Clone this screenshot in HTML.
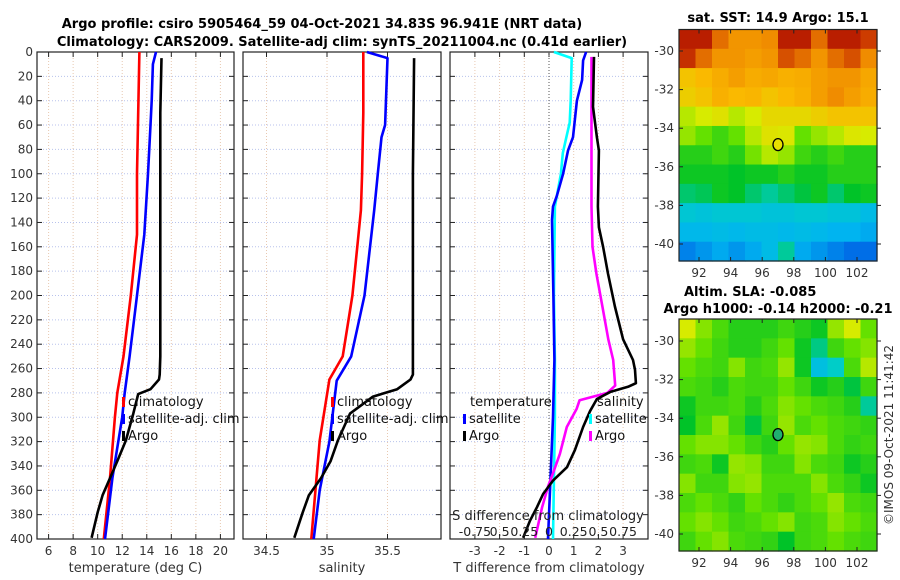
<!DOCTYPE html>
<html><head><meta charset="utf-8"><style>
body{margin:0;background:#fff}
svg{display:block;font-family:"DejaVu Sans","Liberation Sans",sans-serif}
</style></head><body>
<svg id="c" width="900" height="580" viewBox="0 0 900 580">
<text x="322" y="28" font-size="13" font-weight="bold" text-anchor="middle" fill="#000">Argo profile: csiro 5905464_59 04-Oct-2021 34.83S 96.941E (NRT data)</text>
<text x="342" y="46" font-size="13" font-weight="bold" text-anchor="middle" fill="#000">Climatology: CARS2009. Satellite-adj clim: synTS_20211004.nc (0.41d earlier)</text>
<text x="778" y="22" font-size="13" font-weight="bold" text-anchor="middle">sat. SST: 14.9 Argo: 15.1</text>
<text x="684" y="296" font-size="13" font-weight="bold">Altim. SLA: -0.085</text>
<text x="778" y="313" font-size="13" font-weight="bold" text-anchor="middle">Argo h1000: -0.14 h2000: -0.21</text>
<text transform="translate(893,435) rotate(-90)" font-size="12" text-anchor="middle" fill="#333">©IMOS 09-Oct-2021 11:41:42</text>
</svg>
<script>
// ---- data ----
const depthTicks=[0,20,40,60,80,100,120,140,160,180,200,220,240,260,280,300,320,340,360,380,400];
const tTicks=[6,8,10,12,14,16,18,20];
const sTicks=[34.5,35,35.5];
const sTickLabels=["34.5","35","35.5"];
const dtTicks=[-3,-2,-1,0,1,2,3];
const dsTickLabels=["-0.75","0.5","0.25","0","0.25","0.5","0.75"];
const dsTicks=[-0.75,-0.5,-0.25,0,0.25,0.5,0.75];
// temperature profiles
const tClimDepth=[0,50,100,150,200,250,280,300,350,400];
const tClimVal=[13.4,13.3,13.2,13.2,12.7,12.1,11.6,11.4,11.0,10.5];
const tSatDepth=[0,10,40,60,100,150,200,250,280,300,350,400];
const tSatVal=[14.75,14.5,14.4,14.3,14.1,13.8,13.2,12.6,12.2,12.0,11.2,10.6];
const tArgoDepth=[5,50,100,150,200,250,265,269,277,281,297,319,336,350,364,378,399];
const tArgoVal=[15.2,15.1,15.1,15.1,15.1,15.1,15.05,15.0,14.3,13.3,12.9,12.3,11.6,11.0,10.4,10.0,9.5];
// salinity profiles
const sClimDepth=[0,50,100,130,150,200,250,269,319,400];
const sClimVal=[35.30,35.30,35.29,35.28,35.26,35.21,35.13,35.02,34.94,34.87];
const sSatDepth=[0,5,60,70,100,130,200,250,270,320,360,400];
const sSatVal=[35.33,35.50,35.48,35.45,35.42,35.39,35.31,35.20,35.08,35.02,34.94,34.89];
const sArgoDepth=[5,100,200,265,269,277,283,297,319,336,350,364,378,399];
const sArgoVal=[35.72,35.71,35.71,35.71,35.69,35.58,35.38,35.19,35.09,35.03,34.95,34.85,34.80,34.73];
// difference profiles
const dtSatDepth=[0,7,23,40,70,81,100,118,127,138,200,253,300,400];
const dtSatVal=[1.5,1.38,1.34,1.13,0.97,0.77,0.57,0.32,0.16,0.12,0.18,0.22,0.16,-0.04];
const dsSatDepth=[0,5,40,58,72,83,100,127,200,253,300,400];
const dsSatVal=[0.05,0.23,0.22,0.21,0.17,0.14,0.12,0.06,0.05,0.06,0.06,0.04];
const dtArgoDepth=[4,45,70,81,127,144,160,182,209,236,253,261,272,275,279,285,295,308,327,341,352,363,374,385,399];
const dtArgoVal=[1.82,1.78,1.94,2.02,1.98,2.02,2.19,2.39,2.67,3.00,3.40,3.48,3.52,3.2,2.5,1.94,1.66,1.38,1.05,0.73,0.16,-0.24,-0.49,-0.77,-1.05];
const dsArgoDepth=[4,127,160,182,209,236,253,274,280,286,293,308,330,346,357,374,399];
const dsArgoVal=[0.43,0.43,0.44,0.48,0.54,0.60,0.65,0.67,0.59,0.31,0.28,0.18,0.11,0.04,-0.01,-0.07,-0.14];
// maps (normalized colour values 0..1, rows north->south)
const mapLonTicks=[92,94,96,98,100,102];
const mapLatTicks=[-30,-32,-34,-36,-38,-40];
const sstGrid=[
[.95,.95,.85,.8,.8,.82,.95,.95,.85,.95,.95,.9],
[.92,.85,.8,.8,.78,.8,.88,.85,.8,.85,.88,.82],
[.7,.72,.75,.78,.75,.76,.74,.75,.78,.8,.8,.76],
[.68,.7,.74,.72,.73,.7,.72,.74,.78,.82,.78,.75],
[.6,.62,.64,.6,.62,.66,.66,.66,.68,.7,.7,.7],
[.58,.55,.52,.55,.6,.64,.63,.55,.58,.6,.63,.62],
[.5,.5,.52,.5,.56,.6,.58,.52,.5,.52,.5,.5],
[.48,.48,.48,.47,.48,.48,.5,.48,.48,.5,.5,.5],
[.44,.45,.48,.47,.44,.42,.44,.46,.48,.44,.47,.48],
[.38,.37,.38,.38,.38,.37,.37,.38,.38,.37,.37,.35],
[.34,.34,.35,.34,.35,.35,.34,.35,.34,.33,.33,.32],
[.28,.3,.32,.3,.32,.35,.42,.32,.3,.28,.26,.26]];
const slaGrid=[
[.62,.57,.53,.5,.5,.5,.52,.5,.48,.58,.62,.55],
[.58,.55,.52,.5,.5,.52,.55,.48,.43,.52,.55,.57],
[.55,.53,.52,.57,.52,.53,.58,.48,.36,.4,.53,.6],
[.53,.52,.5,.53,.52,.52,.55,.52,.48,.5,.46,.52],
[.48,.52,.52,.53,.5,.53,.57,.55,.53,.52,.5,.42],
[.47,.53,.58,.52,.46,.52,.58,.53,.55,.53,.52,.51],
[.55,.57,.57,.55,.52,.5,.55,.58,.57,.53,.51,.52],
[.52,.53,.48,.58,.57,.52,.52,.57,.53,.52,.48,.5],
[.57,.52,.52,.57,.58,.53,.53,.53,.57,.53,.51,.48],
[.53,.55,.53,.51,.55,.53,.51,.53,.55,.58,.53,.52],
[.55,.57,.55,.52,.53,.55,.57,.52,.53,.57,.55,.53],
[.52,.55,.57,.53,.52,.51,.47,.52,.53,.55,.53,.52]];
const argoLon=97.0, argoLat=-34.85;

// ---- drawing ----
const svg=document.getElementById('c');
const NS='http://www.w3.org/2000/svg';
function el(tag,attrs,parent){const e=document.createElementNS(NS,tag);for(const k in attrs)e.setAttribute(k,attrs[k]);(parent||svg).appendChild(e);return e;}
const Y0=52,Y1=539;
const yD=d=>Y0+d*(Y1-Y0)/400;
function lin(v0,p0,v1,p1){return v=>p0+(v-v0)*(p1-p0)/(v1-v0);}
const panels=[
 {x0:37,x1:234,fx:lin(6,48.6,20,220.4),ticks:tTicks,labels:tTicks.map(String),xl:'temperature (deg C)',name:'temperature-panel'},
 {x0:243,x1:441,fx:lin(34.5,266.5,35.5,387.5),ticks:sTicks,labels:sTickLabels,xl:'salinity',name:'salinity-panel'},
 {x0:450,x1:648,fx:lin(0,549,1,573.7),ticks:dtTicks,labels:dtTicks.map(String),xl:'T difference from climatology',name:'difference-panel'}];
panels.forEach((p,pi)=>{
  const g=el('g',{});
  
  
  depthTicks.forEach(d=>{
    const gl=el('line',{x1:p.x0,x2:p.x1,y1:yD(d),y2:yD(d),stroke:'#b8c2ec','stroke-width':1,'stroke-dasharray':'1,2'},g);
    
    
    el('line',{x1:p.x0,x2:p.x0+5,y1:yD(d),y2:yD(d),stroke:'#222'},g);
    el('line',{x1:p.x1-5,x2:p.x1,y1:yD(d),y2:yD(d),stroke:'#222'},g);
  });
  p.ticks.forEach((t,i)=>{
    const x=p.fx(t);
    const gl=el('line',{x1:x,x2:x,y1:Y0,y2:Y1,stroke:'#e8c8b0','stroke-width':1,'stroke-dasharray':'1,2'},g);
    
    
    el('line',{x1:x,x2:x,y1:Y1-5,y2:Y1,stroke:'#222'},g);
    el('line',{x1:x,x2:x,y1:Y0,y2:Y0+5,stroke:'#222'},g);
    const tl=el('text',{x:x,y:555,'font-size':12,'text-anchor':'middle',fill:'#333'},g);
    tl.textContent=p.labels[i];
    
    
  });
  const xl=el('text',{x:(p.x0+p.x1)/2,y:572,'font-size':13,'text-anchor':'middle',fill:'#333'},g);
  xl.textContent=p.xl;
  
  
  const fr=el('rect',{x:p.x0,y:Y0,width:p.x1-p.x0,height:Y1-Y0,fill:'none',stroke:'#222','stroke-width':1.2},g);
  
  
});
depthTicks.forEach(d=>{
  const t=el('text',{x:33,y:yD(d)+4,'font-size':12,'text-anchor':'end',fill:'#333'});
  t.textContent=String(d);
  
  
});
const zl=el('line',{x1:549,x2:549,y1:Y0,y2:Y1,stroke:'#555','stroke-dasharray':'1,2'});


function prof(depths,vals,fx,color,name){
  const pts=depths.map((d,i)=>fx(vals[i]).toFixed(1)+','+yD(d).toFixed(1)).join(' ');
  const pl=el('polyline',{points:pts,fill:'none',stroke:color,'stroke-width':2.6,'stroke-linejoin':'round'});
  
  
}
const fT=panels[0].fx,fS=panels[1].fx,fDT=panels[2].fx,fDS=lin(0,549,0.25,573.7);
prof(tClimDepth,tClimVal,fT,'#ff0000','temp-climatology-line');
prof(tSatDepth,tSatVal,fT,'#0000ff','temp-satellite-line');
prof(tArgoDepth,tArgoVal,fT,'#000000','temp-argo-line');
prof(sClimDepth,sClimVal,fS,'#ff0000','sal-climatology-line');
prof(sSatDepth,sSatVal,fS,'#0000ff','sal-satellite-line');
prof(sArgoDepth,sArgoVal,fS,'#000000','sal-argo-line');
prof(dsSatDepth,dsSatVal,fDS,'#00ffff','sal-diff-satellite-line');
prof(dtSatDepth,dtSatVal,fDT,'#0000ff','temp-diff-satellite-line');
prof(dsArgoDepth,dsArgoVal,fDS,'#ff00ff','sal-diff-argo-line');
prof(dtArgoDepth,dtArgoVal,fDT,'#000000','temp-diff-argo-line');
const sdt=el('text',{x:548,y:520,'font-size':13,'text-anchor':'middle',fill:'#222'});
sdt.textContent='S difference from climatology';


dsTicks.forEach((t,i)=>{
  const tx=el('text',{x:fDS(t),y:536,'font-size':12.5,'text-anchor':'middle',fill:'#222'});
  tx.textContent=dsTickLabels[i];
  
  
});
function legend(x,y,color,label,name){
  const m=el('rect',{x:x,y:y-9,width:3,height:10,fill:color});
  
  
  const t=el('text',{x:x+6,y:y,'font-size':13,fill:'#111'});
  t.textContent=label;
  
  
}
legend(122,406,'#ff0000','climatology','legend-temp-climatology');
legend(122,423,'#0000ff','satellite-adj. clim','legend-temp-satellite');
legend(122,440,'#000000','Argo','legend-temp-argo');
legend(331,406,'#ff0000','climatology','legend-sal-climatology');
legend(331,423,'#0000ff','satellite-adj. clim','legend-sal-satellite');
legend(331,440,'#000000','Argo','legend-sal-argo');
const lt=el('text',{x:470,y:406,'font-size':13,fill:'#111'});lt.textContent='temperature';


const ls=el('text',{x:597,y:406,'font-size':13,fill:'#111'});ls.textContent='salinity';


legend(463,423,'#0000ff','satellite','legend-diff-temp-satellite');
legend(463,440,'#000000','Argo','legend-diff-temp-argo');
legend(589,423,'#00ffff','satellite','legend-diff-sal-satellite');
legend(589,440,'#ff00ff','Argo','legend-diff-sal-argo');
// colormap matching the reference palette
const cmapStops=[[0,[0,0,160]],[0.25,[0,100,230]],[0.33,[0,180,240]],[0.4,[0,205,200]],[0.47,[0,195,40]],[0.55,[100,225,0]],[0.62,[215,235,0]],[0.72,[250,185,0]],[0.82,[240,140,0]],[0.9,[205,60,0]],[1,[165,0,0]]];
function cmap(v){
  for(let i=1;i<cmapStops.length;i++){
    if(v<=cmapStops[i][0]){const a=cmapStops[i-1],b=cmapStops[i],f=(v-a[0])/(b[0]-a[0]);
      return 'rgb('+a[1].map((c,k)=>Math.round(c+(b[1][k]-c)*f)).join(',')+')';}
  }
  return 'rgb(165,0,0)';
}
function drawMap(top,bot,latRef,grid,dotColor,name){
  const X0=679,X1=877;
  const fx=lin(92,699,102,857),fy=lin(-30,latRef[0],-40,latRef[1]);
  const g=el('g',{});
  
  
  const rows=grid.length,cols=grid[0].length,cw=(X1-X0)/cols,rh=(bot-top)/rows;
  grid.forEach((row,r)=>row.forEach((v,c)=>{
    const cell=el('rect',{x:X0+c*cw,y:top+r*rh,width:cw+0.6,height:rh+0.6,fill:cmap(v)},g);
    
    
  }));
  el('rect',{x:X0,y:top,width:X1-X0,height:bot-top,fill:'none',stroke:'#222','stroke-width':1.2},g);
  mapLonTicks.forEach(l=>{const x=fx(l);
    el('line',{x1:x,x2:x,y1:bot,y2:bot-4,stroke:'#222'},g);
    el('line',{x1:x,x2:x,y1:top,y2:top+4,stroke:'#222'},g);
    const t=el('text',{x:x,y:bot+16,'font-size':12,'text-anchor':'middle',fill:'#333'},g);t.textContent=String(l);
    
    });
  mapLatTicks.forEach(l=>{const y=fy(l);
    el('line',{x1:X0,x2:X0+4,y1:y,y2:y,stroke:'#222'},g);
    el('line',{x1:X1,x2:X1+4,y1:y,y2:y,stroke:'#222'},g);
    const t=el('text',{x:674,y:y+4,'font-size':12,'text-anchor':'end',fill:'#333'},g);t.textContent=String(l);
    
    });
  const m=el('ellipse',{cx:fx(argoLon),cy:fy(argoLat),rx:5,ry:6,fill:dotColor,stroke:'#000','stroke-width':1.3},g);
  
  
}
drawMap(29.5,261,[51,244],sstGrid,'#e8e000','sst-map');
drawMap(319,551,[341,534],slaGrid,'#20b070','sla-map');
</script>
</body></html>
